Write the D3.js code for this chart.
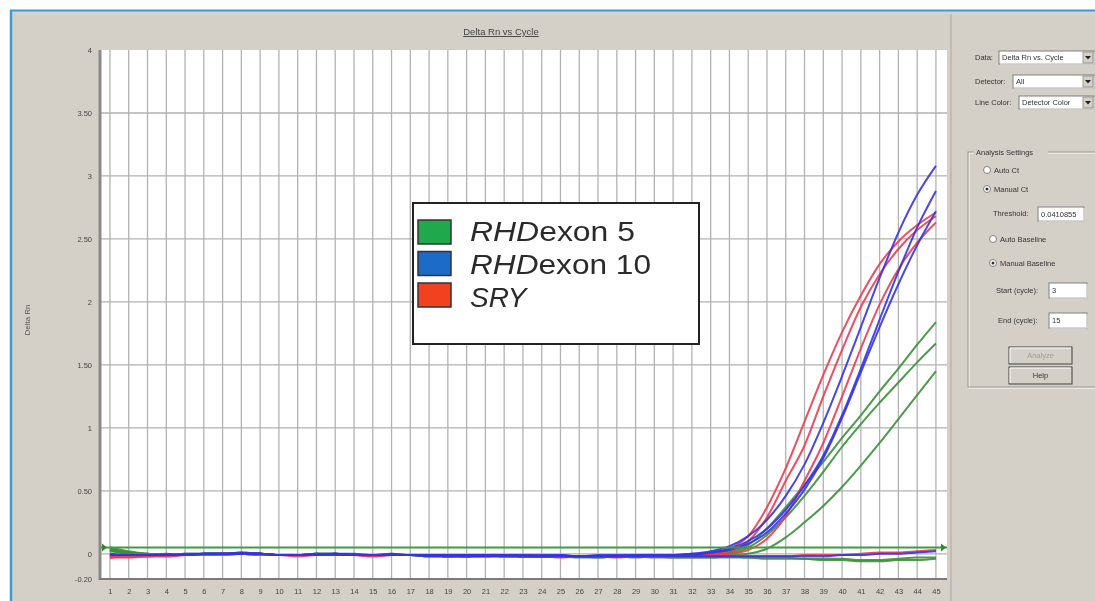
<!DOCTYPE html>
<html>
<head>
<meta charset="utf-8">
<script src="https://cdn.jsdelivr.net/npm/d3@7"></script>
<style>
  body { margin: 0; background: #fff; }
  svg { display: block; font-family: "Liberation Sans", Arial, sans-serif; filter: blur(0.4px); }
</style>
</head>
<body>
<div id="chart"></div>
<script>
/* Delta Rn vs Cycle - real-time PCR amplification plot */

const cycles = [1,2,3,4,5,6,7,8,9,10,11,12,13,14,15,16,17,18,19,20,21,22,23,24,25,26,27,28,29,30,
                31,32,33,34,35,36,37,38,39,40,41,42,43,44,45];
const yTicks = [4, 3.5, 3, 2.5, 2, 1.5, 1, 0.5, 0, -0.2];
const yTickLabels = ["4", "3.50", "3", "2.50", "2", "1.50", "1", "0.50", "0", "-0.20"];
const threshold = 0.05;

// RHD exon 5 (green)
const exon5_a = [0.03,0.00,-0.01,-0.01,-0.01,0.00,0.00,0.00,0.00,-0.01,
  -0.01,0.00,-0.01,-0.01,-0.01,0.00,-0.01,-0.01,-0.02,-0.02,
  -0.01,-0.01,-0.01,-0.02,-0.02,-0.02,-0.02,-0.02,-0.02,-0.02,
  -0.02,-0.01,-0.01,0.01,0.07,0.20,0.37,0.55,0.73,0.92,
  1.10,1.29,1.47,1.66,1.84];
const exon5_b = [0.02,0.00,-0.01,-0.01,0.00,0.00,0.00,0.01,0.00,-0.01,
  -0.01,0.00,0.00,-0.01,-0.01,-0.01,-0.01,-0.02,-0.02,-0.02,
  -0.01,-0.02,-0.02,-0.02,-0.02,-0.02,-0.03,-0.02,-0.02,-0.02,
  -0.02,-0.02,-0.01,0.00,0.05,0.15,0.29,0.46,0.65,0.85,
  1.03,1.20,1.36,1.52,1.67];
const exon5_c = [0.03,0.01,0.00,-0.01,-0.01,0.00,0.00,0.00,0.00,-0.01,
  -0.01,-0.01,0.00,-0.01,-0.01,-0.01,-0.01,-0.02,-0.02,-0.02,
  -0.02,-0.01,-0.02,-0.02,-0.02,-0.02,-0.02,-0.02,-0.03,-0.02,
  -0.02,-0.02,-0.02,-0.01,0.00,0.04,0.13,0.25,0.38,0.53,
  0.70,0.88,1.07,1.26,1.45];
const exon5_ntc1 = [0.05,0.02,0.00,-0.01,-0.01,0.00,0.00,0.00,0.00,-0.01,
  -0.01,0.00,0.00,-0.01,-0.01,-0.01,-0.01,-0.01,-0.02,-0.02,
  -0.02,-0.02,-0.02,-0.02,-0.02,-0.03,-0.03,-0.02,-0.02,-0.03,
  -0.03,-0.03,-0.03,-0.03,-0.03,-0.04,-0.04,-0.04,-0.05,-0.05,
  -0.06,-0.06,-0.05,-0.05,-0.04];
const exon5_ntc2 = [0.04,0.01,0.00,-0.01,-0.01,-0.01,0.00,0.00,0.00,-0.01,
  -0.01,-0.01,0.00,-0.01,-0.01,-0.01,-0.01,-0.02,-0.02,-0.02,
  -0.02,-0.02,-0.02,-0.02,-0.02,-0.02,-0.02,-0.02,-0.02,-0.02,
  -0.03,-0.03,-0.03,-0.02,-0.03,-0.03,-0.03,-0.04,-0.04,-0.04,
  -0.05,-0.05,-0.04,-0.03,-0.03];

// RHD exon 10 (blue)
const exon10_a = [0.00,-0.01,-0.01,-0.01,0.00,0.00,0.00,0.01,0.00,-0.01,
  -0.01,0.00,0.00,-0.01,-0.01,0.00,-0.01,-0.01,-0.01,-0.01,
  -0.01,-0.01,-0.01,-0.01,-0.01,-0.02,-0.01,-0.01,-0.01,-0.01,
  -0.01,0.00,0.02,0.06,0.14,0.27,0.46,0.71,1.04,1.41,
  1.80,2.19,2.55,2.85,3.08];
const exon10_b = [-0.01,-0.01,-0.01,-0.01,-0.01,0.00,0.00,0.00,0.00,-0.01,
  -0.01,-0.01,0.00,-0.01,-0.01,-0.01,-0.01,-0.01,-0.02,-0.01,
  -0.01,-0.01,-0.02,-0.02,-0.01,-0.02,-0.02,-0.02,-0.01,-0.01,
  -0.01,0.00,0.01,0.04,0.10,0.20,0.35,0.54,0.78,1.10,
  1.47,1.86,2.24,2.59,2.88];
const exon10_c = [-0.01,-0.01,-0.01,0.00,-0.01,0.00,0.00,0.00,0.00,-0.01,
  -0.01,0.00,-0.01,-0.01,-0.01,-0.01,-0.01,-0.02,-0.02,-0.02,
  -0.01,-0.02,-0.02,-0.02,-0.02,-0.02,-0.02,-0.02,-0.02,-0.01,
  -0.01,-0.01,0.01,0.03,0.08,0.17,0.32,0.51,0.76,1.08,
  1.44,1.80,2.14,2.45,2.72];
const exon10_ntc = [-0.01,-0.01,-0.01,-0.01,-0.01,0.00,0.00,0.00,0.00,-0.01,
  -0.01,-0.01,0.00,0.00,-0.01,-0.01,-0.01,-0.01,-0.01,-0.02,
  -0.02,-0.01,-0.02,-0.02,-0.02,-0.02,-0.02,-0.02,-0.02,-0.02,
  -0.02,-0.02,-0.02,-0.02,-0.02,-0.02,-0.02,-0.02,-0.02,-0.01,
  -0.01,0.00,0.00,0.01,0.02];

// SRY (red)
const sry_a = [-0.03,-0.03,-0.02,-0.02,-0.01,-0.01,-0.01,0.00,-0.01,-0.01,
  -0.02,-0.01,-0.01,-0.01,-0.01,-0.01,-0.01,-0.01,-0.02,-0.01,
  -0.01,-0.01,-0.01,-0.02,-0.02,-0.02,-0.02,-0.02,-0.02,-0.02,
  -0.02,-0.01,0.00,0.04,0.14,0.37,0.68,1.05,1.42,1.76,
  2.05,2.30,2.48,2.61,2.71];
const sry_b = [-0.03,-0.02,-0.02,-0.01,-0.01,-0.01,0.00,0.00,0.00,-0.01,
  -0.01,-0.01,-0.01,-0.01,-0.02,-0.01,-0.01,-0.01,-0.01,-0.01,
  -0.01,-0.02,-0.02,-0.02,-0.02,-0.02,-0.02,-0.03,-0.02,-0.02,
  -0.02,-0.02,0.00,0.02,0.10,0.29,0.58,0.86,1.25,1.62,
  1.96,2.22,2.42,2.57,2.68];
const sry_c = [-0.02,-0.02,-0.02,-0.01,-0.01,-0.01,0.00,0.00,-0.01,-0.01,
  -0.01,-0.01,-0.01,-0.01,-0.02,-0.01,-0.01,-0.01,-0.01,-0.02,
  -0.02,-0.02,-0.02,-0.02,-0.03,-0.02,-0.02,-0.02,-0.02,-0.02,
  -0.02,-0.02,-0.01,0.00,0.03,0.12,0.30,0.58,0.88,1.25,
  1.63,1.98,2.26,2.47,2.63];
const sry_ntc = [-0.03,-0.02,-0.02,-0.02,-0.01,-0.01,-0.01,0.00,-0.01,-0.01,
  -0.01,-0.01,-0.01,-0.01,-0.01,-0.01,-0.01,-0.01,-0.02,-0.02,
  -0.02,-0.02,-0.02,-0.02,-0.02,-0.02,-0.02,-0.02,-0.02,-0.02,
  -0.02,-0.02,-0.02,-0.02,-0.02,-0.02,-0.02,-0.01,-0.01,-0.01,
  0.00,0.01,0.01,0.02,0.03];

const detectors = ["RHD exon 5", "RHD exon 10", "SRY"];
const lineColors = ["#3b8f3b", "#3434e4", "#f03a50"];
const swatchColors = ["#20a84c", "#1d6bc8", "#f2411e"];

// draw order: green, red, blue (blue ends up on top at baseline)
const curves = [
  { det: 0, values: exon5_ntc1 }, { det: 0, values: exon5_ntc2 },
  { det: 0, values: exon5_a }, { det: 0, values: exon5_b }, { det: 0, values: exon5_c },
  { det: 2, values: sry_ntc },
  { det: 2, values: sry_a }, { det: 2, values: sry_b }, { det: 2, values: sry_c },
  { det: 1, values: exon10_ntc },
  { det: 1, values: exon10_a }, { det: 1, values: exon10_b }, { det: 1, values: exon10_c }
];

const width = 1095, height = 601;
const bg = "#d4d0c8";

const svg = d3.select("#chart").append("svg")
  .attr("width", width).attr("height", height)
  .attr("viewBox", [0, 0, width, height]);

/* window frame */
svg.append("rect").attr("width", width).attr("height", height).attr("fill", "#fff");
svg.append("rect").attr("x", 11).attr("y", 11).attr("width", width - 11).attr("height", height - 11).attr("fill", bg);
svg.append("line").attr("x1", 10).attr("x2", width).attr("y1", 10.5).attr("y2", 10.5)
  .attr("stroke", "#3d9bd6").attr("stroke-width", 2);
svg.append("line").attr("x1", 11).attr("x2", 11).attr("y1", 10).attr("y2", height)
  .attr("stroke", "#3d9bd6").attr("stroke-width", 2.5);
svg.append("line").attr("x1", 12).attr("x2", width).attr("y1", 13).attr("y2", 13)
  .attr("stroke", "#ddd2cc").attr("stroke-width", 1);

/* scales */
const x = d3.scaleLinear().domain([0.47, 45.59]).range([100, 947]);
const y = d3.scaleLinear().domain([-0.2, 4]).range([579, 50]);

/* plot area */
svg.append("rect").attr("x", x.range()[0]).attr("y", y.range()[1])
  .attr("width", x.range()[1] - x.range()[0]).attr("height", y.range()[0] - y.range()[1])
  .attr("fill", "#fff");

// grid
svg.append("g").selectAll("line").data(cycles).join("line")
  .attr("x1", d => x(d)).attr("x2", d => x(d))
  .attr("y1", y(4)).attr("y2", y(-0.2))
  .attr("stroke", "#b2b2b2").attr("stroke-width", 1.3);
svg.append("g").selectAll("line").data(yTicks.filter(d => d >= 0 && d < 4)).join("line")
  .attr("x1", x.range()[0]).attr("x2", x.range()[1])
  .attr("y1", d => y(d)).attr("y2", d => y(d))
  .attr("stroke", "#b2b2b2").attr("stroke-width", 1.3);

// axes
const yAxis = g => g
  .attr("transform", `translate(${x.range()[0]},0)`)
  .call(d3.axisLeft(y).tickValues(yTicks).tickSize(0).tickPadding(8)
    .tickFormat((d, i) => yTickLabels[i]))
  .call(g => g.select(".domain").remove())
  .call(g => g.selectAll("text").attr("fill", "#444").attr("font-size", 7.5)
    .attr("font-family", "'Liberation Sans', Arial, sans-serif"));

const xAxis = g => g
  .attr("transform", `translate(0,${y.range()[0]})`)
  .call(d3.axisBottom(x).tickValues(cycles).tickSize(0).tickPadding(10))
  .call(g => g.select(".domain").remove())
  .call(g => g.selectAll("text").attr("fill", "#444").attr("font-size", 7.5)
    .attr("font-family", "'Liberation Sans', Arial, sans-serif"));

svg.append("g").call(yAxis);
svg.append("g").call(xAxis);

/* amplification curves */
const line = d3.line()
  .x((d, i) => x(cycles[i]))
  .y(d => y(d))
  .curve(d3.curveMonotoneX);

svg.append("g").selectAll("path").data(curves).join("path")
  .attr("d", d => line(d.values))
  .attr("fill", "none")
  .attr("stroke", d => lineColors[d.det])
  .attr("stroke-width", 2)
  .attr("stroke-opacity", 0.9)
  .attr("stroke-linejoin", "round");

// threshold line
svg.append("line")
  .attr("x1", x.range()[0]).attr("x2", x.range()[1])
  .attr("y1", y(threshold)).attr("y2", y(threshold))
  .attr("stroke", "#3f9c3f").attr("stroke-width", 2);
[x.range()[0] + 2, x.range()[1] - 6].forEach(px => {
  svg.append("path")
    .attr("d", `M${px},${y(threshold) - 4}L${px + 5},${y(threshold)}L${px},${y(threshold) + 4}Z`)
    .attr("fill", "#2e8a2e");
});

// plot border
svg.append("line").attr("x1", 100).attr("x2", 100).attr("y1", y(4)).attr("y2", y(-0.2) + 1)
  .attr("stroke", "#8a8a8a").attr("stroke-width", 3);
svg.append("line").attr("x1", 99).attr("x2", x.range()[1]).attr("y1", y(-0.2)).attr("y2", y(-0.2))
  .attr("stroke", "#7a7a7a").attr("stroke-width", 2);
svg.append("line").attr("x1", 951).attr("x2", 951).attr("y1", 14).attr("y2", height)
  .attr("stroke", "#bab6ae").attr("stroke-width", 1.5);

/* titles */
svg.append("text").attr("x", 501).attr("y", 35).attr("text-anchor", "middle")
  .attr("font-size", 9.5).attr("fill", "#444").attr("text-decoration", "underline")
  .text("Delta Rn vs Cycle");
svg.append("text").attr("transform", "translate(30,320) rotate(-90)")
  .attr("text-anchor", "middle").attr("font-size", 8).attr("fill", "#555")
  .text("Delta Rn");

/* legend */
const legend = svg.append("g");
legend.append("rect").attr("x", 413).attr("y", 203).attr("width", 286).attr("height", 141)
  .attr("fill", "#fff").attr("stroke", "#222").attr("stroke-width", 2);
const rows = [
  { ital: "RHD", rest: "exon 5", len: 165 },
  { ital: "RHD", rest: "exon 10", len: 181 },
  { ital: "SRY", rest: "", len: null }
];
rows.forEach((r, i) => {
  legend.append("rect").attr("x", 418).attr("y", 220 + i * 31.5).attr("width", 33).attr("height", 24)
    .attr("fill", swatchColors[i]).attr("stroke", "#333").attr("stroke-width", 1.5);
  const t = legend.append("text").attr("x", 470).attr("y", 241 + i * 33)
    .attr("font-size", 28).attr("fill", "#2a2a2a");
  if (r.len) t.attr("textLength", r.len).attr("lengthAdjust", "spacingAndGlyphs");
  t.append("tspan").attr("font-style", "italic").text(r.ital);
  if (r.rest) t.append("tspan").text(r.rest);
});

/* right-side control panel */
const panel = svg.append("g").attr("font-size", 7.5).attr("fill", "#333");

function sunken(x0, y0, w, h, txt, col) {
  panel.append("rect").attr("x", x0).attr("y", y0).attr("width", w).attr("height", h)
    .attr("fill", "#fff").attr("stroke", "#808080").attr("stroke-width", 1);
  panel.append("path").attr("d", `M${x0 + 1},${y0 + h}H${x0 + w}V${y0 + 1}`)
    .attr("fill", "none").attr("stroke", "#eee");
  if (txt) panel.append("text").attr("x", x0 + 3).attr("y", y0 + h / 2 + 2.5).attr("fill", col || "#333").text(txt);
}
function dropdown(x0, y0, w, h, txt) {
  sunken(x0, y0, w, h, txt);
  panel.append("rect").attr("x", x0 + w - 11).attr("y", y0 + 1).attr("width", 10).attr("height", h - 2)
    .attr("fill", bg).attr("stroke", "#888").attr("stroke-width", 0.8);
  panel.append("path")
    .attr("d", `M${x0 + w - 9},${y0 + h / 2 - 1.5}h6l-3,3.5z`).attr("fill", "#222");
}
function label(x0, y0, txt) {
  panel.append("text").attr("x", x0).attr("y", y0).text(txt);
}
function radio(cx, cy, checked, txt) {
  panel.append("circle").attr("cx", cx).attr("cy", cy).attr("r", 3.5)
    .attr("fill", "#fff").attr("stroke", "#808080").attr("stroke-width", 1);
  if (checked) panel.append("circle").attr("cx", cx).attr("cy", cy).attr("r", 1.5).attr("fill", "#333");
  panel.append("text").attr("x", cx + 7).attr("y", cy + 2.5).text(txt);
}
function button(x0, y0, w, h, txt, disabled) {
  panel.append("rect").attr("x", x0).attr("y", y0).attr("width", w).attr("height", h)
    .attr("fill", bg).attr("stroke", "#404040").attr("stroke-width", 1);
  panel.append("path").attr("d", `M${x0 + 1},${y0 + h - 1}V${y0 + 1}H${x0 + w - 1}`)
    .attr("fill", "none").attr("stroke", "#fff");
  panel.append("text").attr("x", x0 + w / 2).attr("y", y0 + h / 2 + 2.5).attr("text-anchor", "middle")
    .attr("fill", disabled ? "#a09c94" : "#333").text(txt);
}

label(975, 60, "Data:");
dropdown(999, 51, 95, 13, "Delta Rn vs. Cycle");
label(975, 84, "Detector:");
dropdown(1013, 75, 81, 13, "All");
label(975, 105, "Line Color:");
dropdown(1019, 96, 75, 13, "Detector Color");

// group box
panel.append("rect").attr("x", 969).attr("y", 153).attr("width", 140).attr("height", 235)
  .attr("fill", "none").attr("stroke", "#fff").attr("stroke-width", 1);
panel.append("rect").attr("x", 968).attr("y", 152).attr("width", 140).attr("height", 235)
  .attr("fill", "none").attr("stroke", "#9a968e").attr("stroke-width", 1);
panel.append("rect").attr("x", 974).attr("y", 147).attr("width", 74).attr("height", 10).attr("fill", bg);
label(976, 155, "Analysis Settings");

radio(987, 170, false, "Auto Ct");
radio(987, 189, true, "Manual Ct");
label(993, 216, "Threshold:");
sunken(1038, 207, 46, 14, "0.0410855");
radio(993, 239, false, "Auto Baseline");
radio(993, 263, true, "Manual Baseline");
label(996, 293, "Start (cycle):");
sunken(1049, 283, 38, 15, "3");
label(998, 323, "End (cycle):");
sunken(1049, 313, 38, 15, "15");
button(1009, 347, 63, 17, "Analyze", true);
button(1009, 367, 63, 17, "Help", false);
</script>
</body>
</html>
